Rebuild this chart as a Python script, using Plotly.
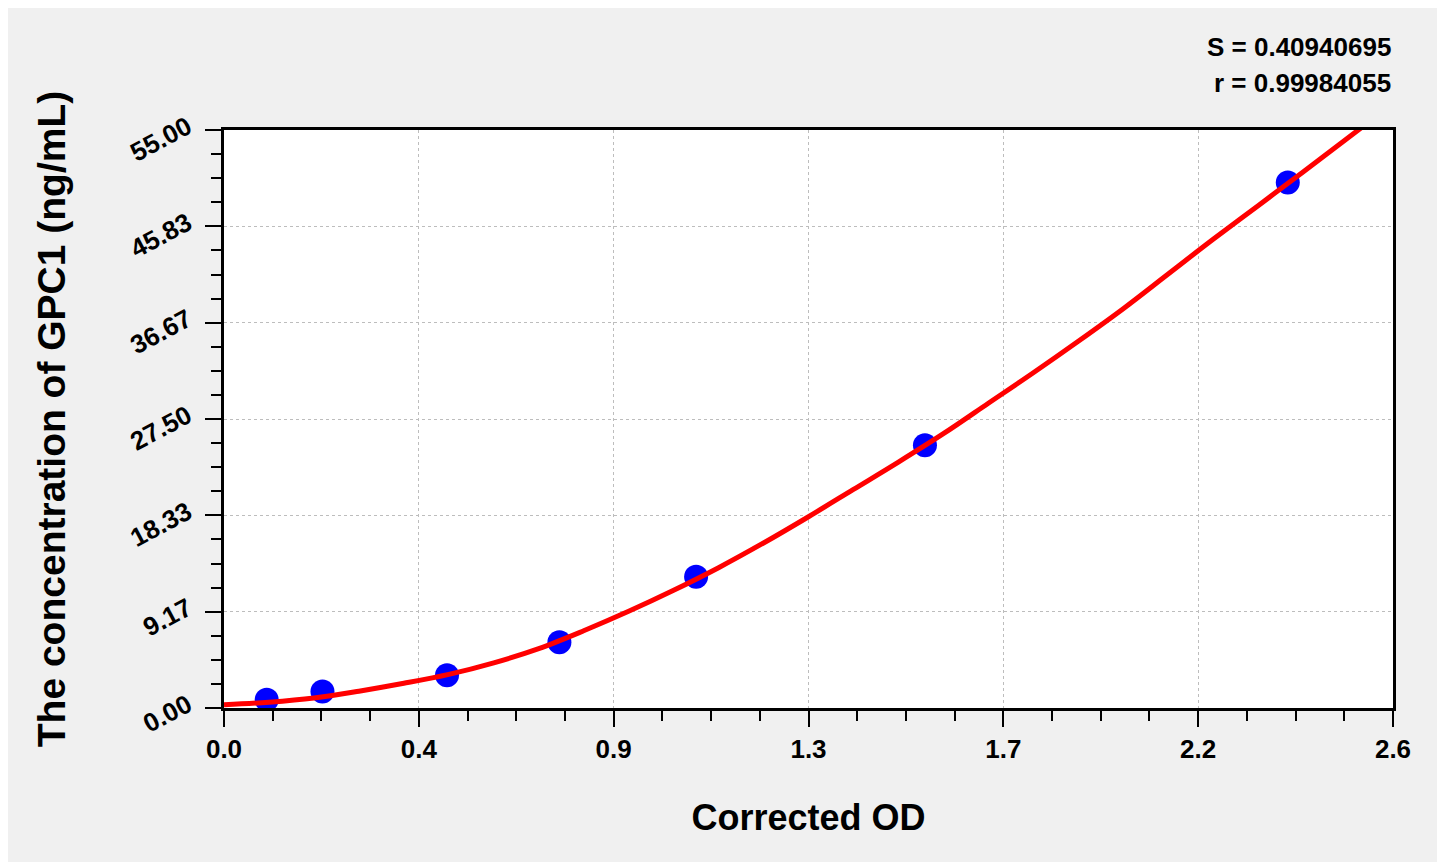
import plotly.graph_objects as go

# standards: corrected OD vs concentration
od_values = [0.095, 0.219, 0.496, 0.746, 1.050, 1.559, 2.366]
conc_values = [0.78, 1.56, 3.12, 6.25, 12.5, 25.0, 50.0]

# fitted curve
curve_od = [0.0, 0.1, 0.2, 0.3, 0.4, 0.5, 0.6, 0.7, 0.8, 0.9,
            1.0, 1.1, 1.2, 1.3, 1.4, 1.5, 1.6, 1.7, 1.8, 1.9,
            2.0, 2.1, 2.2, 2.3, 2.4, 2.529]
curve_conc = [0.3, 0.55, 0.95, 1.6, 2.35, 3.2, 4.3, 5.65, 7.35, 9.2,
              11.2, 13.35, 15.7, 18.2, 20.8, 23.4, 26.1, 29.0, 31.9, 34.9,
              38.0, 41.3, 44.6, 47.8, 51.0, 55.2]

x_tickvals = [0.0, 0.43333, 0.86667, 1.3, 1.73333, 2.16667, 2.6]
x_ticktext = ["0.0", "0.4", "0.9", "1.3", "1.7", "2.2", "2.6"]
y_tickvals = [0.0, 9.16667, 18.33333, 27.5, 36.66667, 45.83333, 55.0]
y_ticktext = ["0.00", "9.17", "18.33", "27.50", "36.67", "45.83", "55.00"]

fit_s = "0.40940695"
fit_r = "0.99984055"

FONT = "Liberation Sans, Arial, sans-serif"

fig = go.Figure()

fig.add_trace(
    go.Scatter(
        x=od_values,
        y=conc_values,
        mode="markers",
        marker=dict(size=24, color="#0000ff"),
        showlegend=False,
    )
)

fig.add_trace(
    go.Scatter(
        x=curve_od,
        y=curve_conc,
        mode="lines",
        line=dict(color="#ff0000", width=5, shape="spline"),
        showlegend=False,
    )
)

axis_common = dict(
    showline=True,
    linecolor="black",
    linewidth=3,
    mirror=True,
    ticks="outside",
    tickcolor="black",
    tickwidth=2,
    ticklen=16,
    showgrid=True,
    gridcolor="#bdbdbd",
    gridwidth=1,
    griddash="dot",
    zeroline=False,
    tickfont=dict(family=FONT, size=26, color="black", weight="bold"),
)

fig.update_xaxes(
    range=[0, 2.6],
    tickmode="array",
    tickvals=x_tickvals,
    ticktext=x_ticktext,
    minor=dict(tickmode="linear", tick0=0, dtick=2.6 / 24, ticks="outside",
               ticklen=10, tickwidth=2, tickcolor="black", showgrid=False),
    title=dict(text="Corrected OD", standoff=42,
               font=dict(family=FONT, size=36, color="black", weight="bold")),
    **axis_common,
)

fig.update_yaxes(
    range=[0, 55],
    tickmode="array",
    tickvals=y_tickvals,
    ticktext=y_ticktext,
    tickangle=-28,
    ticklabelstandoff=12,
    ticklabelshift=-6,
    minor=dict(tickmode="linear", tick0=0, dtick=55 / 24, ticks="outside",
               ticklen=10, tickwidth=2, tickcolor="black", showgrid=False),
    title=dict(text="The concentration of GPC1 (ng/mL)", standoff=48,
               font=dict(family=FONT, size=39, color="black", weight="bold")),
    **axis_common,
)

# fit statistics, top right above the plot
fig.add_annotation(
    x=1.0, y=1.1436, xref="paper", yref="paper",
    xanchor="right", yanchor="middle", showarrow=False,
    text=f"S = {fit_s}",
    font=dict(family=FONT, size=26, color="black", weight="bold"),
)
fig.add_annotation(
    x=1.0, y=1.0813, xref="paper", yref="paper",
    xanchor="right", yanchor="middle", showarrow=False,
    text=f"r = {fit_r}",
    font=dict(family=FONT, size=26, color="black", weight="bold"),
)

fig.update_layout(
    width=1445,
    height=862,
    margin=dict(l=216, r=60, t=122, b=162),
    paper_bgcolor="#f0f0f0",
    plot_bgcolor="white",
    showlegend=False,
)

fig.write_html("out.html")
